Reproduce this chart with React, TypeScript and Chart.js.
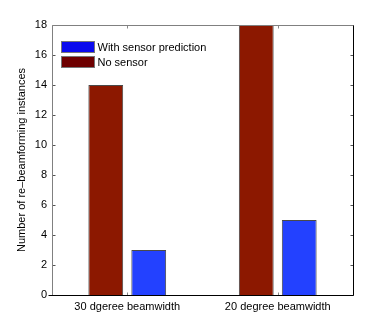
import React, { useEffect, useRef } from "react";
import { Chart, registerables } from "chart.js";

Chart.register(...registerables);

const categories = ["30 dgeree beamwidth", "20 degree beamwidth"];
const noSensor = [14, 18];
const withSensor = [3, 5];
const yTicks = [0, 2, 4, 6, 8, 10, 12, 14, 16, 18];
const legendLabels = ["With sensor prediction", "No sensor"];
const legendColors = ["#0a0aee", "#6e0000"];

const FONT = "'Liberation Sans', Arial, Helvetica, sans-serif";

const framePlugin = {
  id: "frame",
  afterDraw(chart: any) {
    const ctx = chart.ctx;
    const a = chart.chartArea;
    const L = Math.round(a.left) + 0.5;
    const R = Math.round(a.right) + 0.5;
    const T = Math.round(a.top) + 0.5;
    const B = Math.round(a.bottom) + 0.5;
    ctx.save();
    ctx.lineWidth = 1;
    // ticks
    ctx.strokeStyle = "#555";
    const ys = chart.scales.y;
    yTicks.forEach((v) => {
      const y = Math.round(ys.getPixelForValue(v)) + 0.5;
      ctx.beginPath();
      ctx.moveTo(L, y);
      ctx.lineTo(L + 3, y);
      ctx.moveTo(R, y);
      ctx.lineTo(R - 3, y);
      ctx.stroke();
    });
    const xs = chart.scales.x;
    categories.forEach((_, i) => {
      const x = Math.round(xs.getPixelForValue(i)) + 0.5;
      ctx.strokeStyle = "#888";
      ctx.beginPath();
      ctx.moveTo(x, B);
      ctx.lineTo(x, B - 3);
      ctx.moveTo(x, T);
      ctx.lineTo(x, T + 3);
      ctx.stroke();
    });
    // box
    ctx.strokeStyle = "#808080";
    ctx.beginPath();
    ctx.moveTo(L, B);
    ctx.lineTo(L, T);
    ctx.lineTo(R, T);
    ctx.stroke();
    ctx.strokeStyle = "#000";
    ctx.beginPath();
    ctx.moveTo(R, T);
    ctx.lineTo(R, B);
    ctx.lineTo(L - 4, B);
    ctx.stroke();
    // legend
    ctx.font = "11px " + FONT;
    ctx.textBaseline = "middle";
    ctx.textAlign = "left";
    legendLabels.forEach((lab, i) => {
      const x = L + 9;
      const y = T + 16 + i * 15;
      ctx.fillStyle = legendColors[i];
      ctx.fillRect(x, y, 33, 11);
      ctx.strokeStyle = "#777";
      ctx.strokeRect(x, y, 33, 11);
      ctx.fillStyle = "#000";
      ctx.fillText(lab, x + 36, y + 6);
    });
    ctx.restore();
  },
};

export default function App() {
  const ref = useRef<HTMLCanvasElement>(null);
  useEffect(() => {
    const chart = new Chart(ref.current!, {
      type: "bar",
      data: {
        labels: categories,
        datasets: [
          {
            label: "No sensor",
            data: noSensor,
            backgroundColor: "#8c1800",
            borderColor: "#4a4a4a",
            borderWidth: 1,
            categoryPercentage: 0.571,
            barPercentage: 0.81,
          },
          {
            label: "With sensor prediction",
            data: withSensor,
            backgroundColor: "#2341ff",
            borderColor: "#4a4a4a",
            borderWidth: 1,
            categoryPercentage: 0.571,
            barPercentage: 0.81,
          },
        ],
      },
      options: {
        animation: false,
        responsive: false,
        maintainAspectRatio: false,
        layout: { padding: { top: 25, right: 35, left: 0, bottom: 0 } },
        plugins: { legend: { display: false }, tooltip: { enabled: false } },
        scales: {
          x: {
            grid: { display: false, drawTicks: false },
            border: { display: false },
            ticks: { color: "#000", font: { family: FONT, size: 11 }, padding: 5, maxRotation: 0 },
            afterFit: (s: any) => {
              s.height = 37;
            },
          },
          y: {
            min: 0,
            max: 18,
            grid: { display: false, drawTicks: false },
            border: { display: false },
            ticks: {
              stepSize: 2,
              color: "#000",
              font: { family: FONT, size: 11 },
              padding: 5,
            },
            title: {
              display: true,
              text: "Number of re–beamforming instances",
              color: "#000",
              font: { family: FONT, size: 11 },
              padding: { top: 15, bottom: 0 },
            },
            afterFit: (s: any) => {
              s.width = 52;
            },
          },
        },
      },
      plugins: [framePlugin],
    });
    return () => chart.destroy();
  }, []);
  return (
    <div style={{ position: "fixed", left: 0, top: 0, width: 388, height: 332, background: "#fff" }}>
      <canvas ref={ref} width={388} height={332} style={{ width: 388, height: 332 }} />
    </div>
  );
}
